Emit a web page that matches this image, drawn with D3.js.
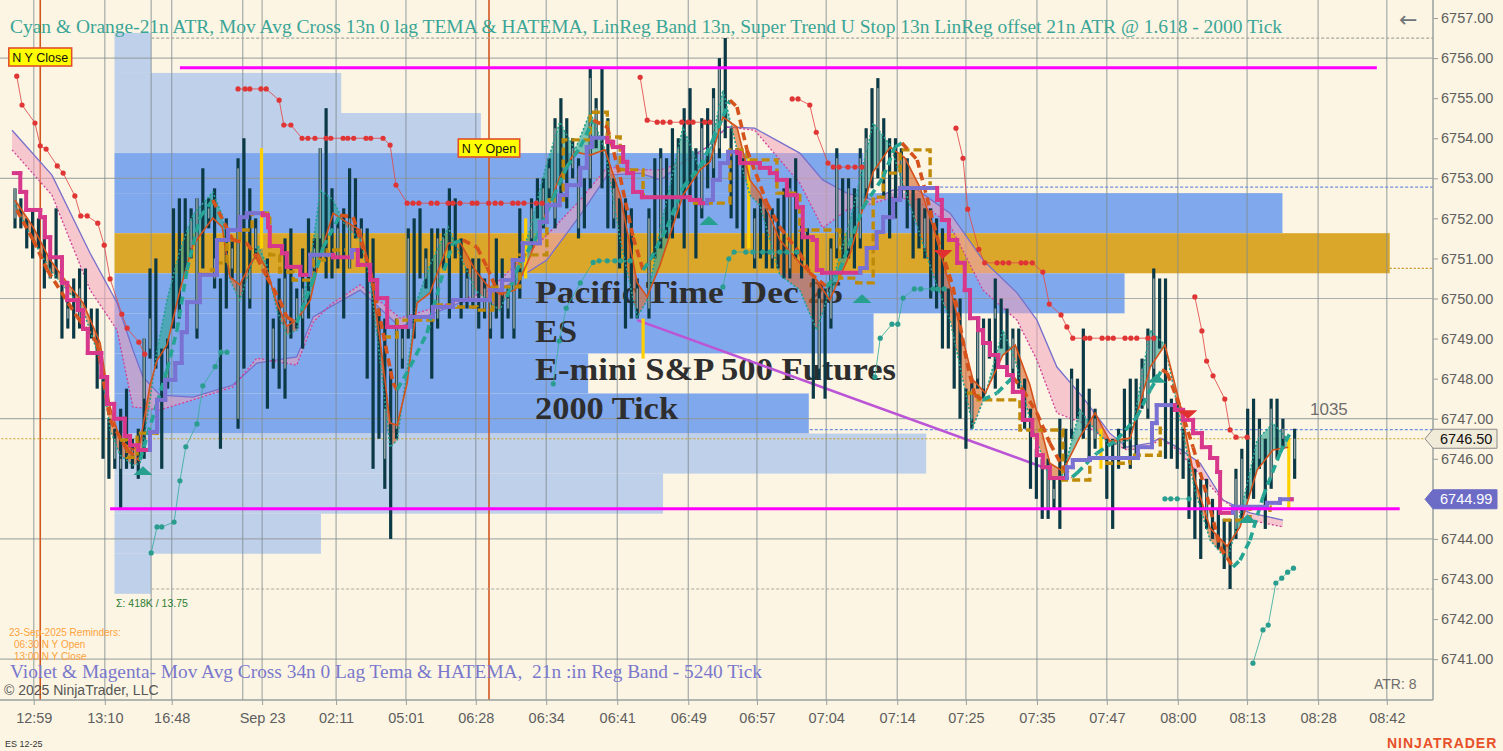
<!DOCTYPE html>
<html>
<head>
<meta charset="utf-8">
<script src="https://cdn.jsdelivr.net/npm/d3@7"></script>
<style>
  body { margin: 0; background: #fcf5e3; overflow: hidden; }
  svg { display: block; }
  .pre { white-space: pre; }
</style>
</head>
<body>
<div id="chart"></div>
<script>
// ES 12-25, 2000 tick bars with the usual overlay studies (NinjaTrader look)

// ---- price bars, index 0 = first bar on screen ----
const barHigh = [
  6752.75, 6752.5, 6752.0, 6752.25, 6752.0, 6752.0, 6751.0, 6752.25, 6750.5, 6750.0,
  6750.5, 6750.75, 6750.75, 6749.75, 6749.75, 6748.0, 6747.0, 6746.75, 6747.25, 6747.75,
  6746.5, 6746.75, 6749.0, 6750.75, 6751.0, 6748.75, 6749.0, 6752.25, 6752.5, 6752.5,
  6752.25, 6752.5, 6753.25, 6752.5, 6752.75, 6750.5, 6752.0, 6751.5, 6753.5, 6754.0,
  6752.75, 6752.0, 6753.75, 6751.0, 6749.5, 6750.5, 6751.5, 6751.75, 6750.25, 6751.25,
  6752.0, 6751.5, 6753.75, 6754.75, 6752.75, 6752.0, 6752.25, 6753.25, 6753.0, 6752.0,
  6751.75, 6751.5, 6749.75, 6749.5, 6748.25, 6749.5, 6749.25, 6751.75, 6752.0, 6752.25,
  6751.25, 6751.75, 6751.75, 6751.75, 6752.75, 6752.5, 6751.5, 6750.75, 6751.0, 6751.0,
  6750.5, 6750.25, 6751.5, 6751.0, 6750.25, 6751.0, 6752.25, 6752.0, 6752.5, 6753.0,
  6753.0, 6753.5, 6754.5, 6755.0, 6754.5, 6754.0, 6753.5, 6753.0, 6755.75, 6755.0,
  6755.75, 6754.5, 6753.0, 6752.5, 6752.5, 6752.25, 6750.5, 6749.5, 6752.25, 6753.5,
  6753.75, 6753.5, 6754.25, 6754.0, 6754.75, 6755.25, 6753.75, 6754.5, 6754.75, 6755.25,
  6756.0, 6756.5, 6754.25, 6753.75, 6753.5, 6753.5, 6752.25, 6752.5, 6752.25, 6752.25,
  6752.5, 6752.75, 6753.0, 6753.5, 6752.0, 6751.75, 6750.5, 6750.25, 6750.25, 6751.5,
  6753.75, 6753.0, 6753.0, 6752.75, 6753.75, 6754.25, 6755.25, 6755.5, 6754.5, 6754.0,
  6754.0, 6753.75, 6753.5, 6752.75, 6752.5, 6752.25, 6752.25, 6752.0, 6751.75, 6750.25,
  6750.0, 6750.0, 6747.75, 6748.0, 6749.5, 6749.5, 6749.5, 6750.5, 6750.0, 6749.75,
  6749.25, 6749.25, 6748.0, 6747.25, 6746.25, 6746.0, 6746.0, 6745.5, 6747.0, 6746.75,
  6748.25, 6748.0, 6749.25, 6747.75, 6747.25, 6746.75, 6746.5, 6746.5, 6746.75, 6747.75,
  6748.0, 6748.0, 6748.5, 6749.25, 6750.75, 6750.5, 6750.5, 6747.5, 6747.5, 6746.75,
  6746.0, 6745.75, 6745.5, 6745.5, 6745.0, 6744.75, 6744.5, 6744.5, 6745.75, 6746.25,
  6747.25, 6747.5, 6747.0, 6746.5, 6747.5, 6747.5, 6747.0, 6746.5, 6746.75
];
const barLow = [
  6751.75, 6751.75, 6751.25, 6751.0, 6751.25, 6750.25, 6750.5, 6750.5, 6749.0, 6749.25,
  6749.0, 6749.25, 6749.75, 6749.0, 6747.75, 6746.0, 6745.5, 6745.75, 6744.75, 6745.75,
  6745.75, 6745.5, 6746.0, 6748.5, 6748.25, 6745.75, 6747.75, 6749.25, 6749.5, 6750.5,
  6751.0, 6749.0, 6750.75, 6751.75, 6750.25, 6746.25, 6749.75, 6750.5, 6746.75, 6748.25,
  6749.75, 6751.0, 6751.25, 6747.25, 6748.25, 6747.75, 6747.5, 6749.0, 6749.25, 6748.75,
  6749.5, 6750.5, 6751.0, 6750.5, 6750.5, 6750.75, 6749.5, 6750.75, 6751.5, 6751.0,
  6748.0, 6745.75, 6746.5, 6745.25, 6744.0, 6746.5, 6748.25, 6749.0, 6749.0, 6750.5,
  6750.25, 6748.0, 6749.25, 6750.75, 6749.5, 6751.0, 6749.5, 6749.75, 6749.75, 6749.25,
  6749.5, 6749.0, 6749.5, 6749.0, 6749.5, 6749.0, 6750.0, 6750.5, 6751.25, 6752.0,
  6751.75, 6752.5, 6751.75, 6752.5, 6752.25, 6753.0, 6751.5, 6751.75, 6752.75, 6753.75,
  6752.75, 6751.75, 6751.75, 6750.75, 6749.25, 6749.5, 6749.5, 6748.5, 6749.5, 6751.0,
  6751.25, 6751.5, 6751.5, 6752.0, 6751.25, 6752.5, 6751.0, 6752.0, 6752.75, 6753.0,
  6753.5, 6754.0, 6752.0, 6751.75, 6751.25, 6751.25, 6750.75, 6751.0, 6750.75, 6750.75,
  6750.75, 6750.5, 6750.5, 6751.0, 6750.5, 6750.75, 6747.5, 6748.0, 6747.5, 6749.25,
  6751.0, 6751.0, 6751.0, 6750.75, 6751.25, 6752.5, 6752.75, 6753.0, 6752.5, 6751.5,
  6752.0, 6752.5, 6751.75, 6751.0, 6751.25, 6751.0, 6750.0, 6749.75, 6748.75, 6748.75,
  6747.75, 6747.0, 6746.25, 6746.75, 6747.75, 6747.5, 6748.5, 6747.75, 6748.75, 6748.25,
  6748.0, 6747.75, 6746.75, 6745.25, 6745.0, 6744.5, 6744.5, 6744.75, 6744.25, 6745.5,
  6746.5, 6747.0, 6746.5, 6746.0, 6746.25, 6745.75, 6745.0, 6744.25, 6745.75, 6746.25,
  6745.75, 6746.0, 6747.25, 6747.0, 6748.0, 6748.75, 6746.0, 6746.0, 6745.75, 6745.5,
  6744.5, 6744.0, 6743.5, 6744.25, 6744.0, 6743.75, 6743.25, 6742.75, 6744.0, 6744.5,
  6745.0, 6745.0, 6745.75, 6744.25, 6745.25, 6746.0, 6746.25, 6744.75, 6745.5
];
const barOpen = [
  6752.0, 6752.25, 6751.75, 6752.0, 6751.75, 6751.75, 6750.5, 6752.0, 6750.25, 6749.5,
  6750.25, 6749.5, 6750.5, 6749.5, 6749.5, 6747.75, 6746.75, 6746.0, 6745.75, 6747.5,
  6746.0, 6746.5, 6747.5, 6748.75, 6750.75, 6748.5, 6748.0, 6751.75, 6752.25, 6752.25,
  6751.25, 6749.25, 6753.0, 6752.0, 6750.5, 6750.25, 6751.75, 6750.75, 6747.0, 6753.75,
  6750.0, 6751.25, 6751.5, 6750.75, 6748.5, 6750.25, 6748.25, 6751.5, 6749.5, 6749.5,
  6751.75, 6750.75, 6751.5, 6754.5, 6752.5, 6751.0, 6752.0, 6750.75, 6752.75, 6751.25,
  6751.5, 6751.25, 6749.5, 6746.0, 6748.0, 6746.75, 6748.5, 6749.25, 6751.75, 6752.0,
  6750.5, 6751.5, 6749.5, 6751.0, 6752.5, 6752.25, 6751.25, 6750.0, 6750.0, 6750.75,
  6749.75, 6749.25, 6751.25, 6750.75, 6749.75, 6749.25, 6752.0, 6750.75, 6751.5, 6752.75,
  6752.0, 6752.75, 6752.0, 6754.75, 6754.25, 6753.25, 6751.75, 6752.75, 6753.0, 6754.0,
  6755.5, 6754.25, 6752.0, 6752.25, 6752.25, 6752.0, 6749.75, 6749.25, 6749.75, 6753.25,
  6751.5, 6753.25, 6754.0, 6752.25, 6754.5, 6755.0, 6753.5, 6752.25, 6754.5, 6753.25,
  6753.75, 6756.25, 6754.0, 6753.5, 6753.25, 6751.5, 6751.0, 6752.25, 6752.0, 6751.0,
  6752.25, 6752.5, 6750.75, 6753.25, 6751.75, 6751.5, 6750.25, 6748.25, 6750.0, 6749.5,
  6751.25, 6752.75, 6751.25, 6752.5, 6751.5, 6752.75, 6755.0, 6753.25, 6754.25, 6753.75,
  6753.75, 6752.75, 6753.25, 6752.5, 6752.25, 6751.25, 6752.0, 6751.75, 6751.5, 6750.0,
  6749.75, 6749.75, 6747.5, 6747.0, 6748.0, 6747.75, 6749.25, 6749.5, 6749.75, 6749.5,
  6748.25, 6749.0, 6747.75, 6747.0, 6746.0, 6745.75, 6744.75, 6745.0, 6746.75, 6746.5,
  6746.75, 6747.75, 6749.0, 6747.5, 6746.5, 6746.0, 6746.25, 6746.25, 6746.0, 6747.5,
  6747.75, 6747.75, 6747.5, 6747.25, 6748.25, 6750.25, 6750.25, 6747.25, 6747.25, 6746.5,
  6745.75, 6745.5, 6745.25, 6744.5, 6744.75, 6744.5, 6744.25, 6744.25, 6744.25, 6744.75,
  6747.0, 6747.25, 6746.0, 6746.25, 6745.5, 6747.25, 6746.5, 6746.25, 6746.0
];
const barClose = [
  6752.75, 6751.75, 6751.5, 6751.25, 6751.5, 6750.5, 6750.75, 6750.75, 6749.25, 6749.75,
  6749.25, 6750.25, 6750.0, 6749.25, 6748.0, 6746.25, 6745.75, 6746.5, 6746.0, 6746.0,
  6746.25, 6745.75, 6749.0, 6749.5, 6748.5, 6746.0, 6748.75, 6749.5, 6749.75, 6750.75,
  6752.0, 6752.5, 6751.0, 6752.25, 6751.0, 6746.5, 6750.0, 6751.25, 6753.25, 6748.5,
  6750.75, 6751.75, 6753.5, 6747.5, 6749.25, 6748.0, 6750.5, 6749.25, 6750.0, 6750.25,
  6749.75, 6751.25, 6753.75, 6750.75, 6750.75, 6751.75, 6749.75, 6752.0, 6751.75, 6751.75,
  6748.25, 6746.0, 6746.75, 6747.25, 6744.25, 6749.25, 6749.0, 6751.5, 6749.25, 6750.75,
  6751.0, 6748.25, 6751.5, 6751.5, 6749.75, 6751.25, 6749.75, 6750.5, 6750.75, 6749.5,
  6750.25, 6750.0, 6749.75, 6749.25, 6750.0, 6750.75, 6750.25, 6751.75, 6752.25, 6752.25,
  6752.75, 6753.25, 6754.25, 6752.75, 6752.5, 6753.75, 6753.25, 6752.0, 6755.5, 6754.75,
  6753.0, 6752.0, 6752.75, 6751.0, 6749.5, 6749.75, 6750.25, 6749.0, 6752.0, 6751.25,
  6753.5, 6751.75, 6751.75, 6753.75, 6751.5, 6752.75, 6751.25, 6754.25, 6753.0, 6755.0,
  6755.75, 6754.25, 6752.25, 6752.0, 6751.5, 6753.25, 6752.0, 6751.25, 6751.0, 6752.0,
  6751.0, 6750.75, 6752.75, 6751.25, 6750.75, 6751.0, 6747.75, 6750.0, 6747.75, 6751.25,
  6753.5, 6751.25, 6752.75, 6751.0, 6753.5, 6754.0, 6753.0, 6755.25, 6752.75, 6751.75,
  6752.25, 6753.5, 6752.0, 6751.25, 6751.5, 6752.0, 6750.25, 6750.0, 6749.0, 6749.0,
  6748.0, 6747.25, 6746.5, 6747.75, 6749.25, 6749.25, 6748.75, 6749.75, 6749.0, 6748.5,
  6749.0, 6748.0, 6747.0, 6745.5, 6745.25, 6744.75, 6745.75, 6745.25, 6744.5, 6745.75,
  6748.0, 6747.25, 6746.75, 6746.25, 6747.0, 6746.5, 6745.25, 6744.5, 6746.5, 6746.5,
  6746.0, 6746.25, 6748.25, 6749.0, 6750.5, 6749.0, 6746.25, 6746.25, 6746.0, 6745.75,
  6744.75, 6744.25, 6743.75, 6745.25, 6744.25, 6744.0, 6743.5, 6743.0, 6745.5, 6746.0,
  6745.25, 6745.25, 6746.75, 6744.5, 6747.25, 6746.25, 6746.75, 6745.0, 6746.5
];
// bars painted yellow by the chart
const goldBars = [42, 87, 107, 125, 185, 217];

// ---- axes ----
const priceTicks = [6757, 6756, 6755, 6754, 6753, 6752, 6751, 6750, 6749, 6748, 6747, 6746, 6745, 6744, 6743, 6742, 6741];
const gridPrices = [6756, 6753, 6750, 6747, 6744, 6741];
const timeLabels = ["12:59", "13:10", "16:48", "Sep 23", "02:11", "05:01", "06:28", "06:34", "06:41", "06:49",
                    "06:57", "07:04", "07:14", "07:25", "07:35", "07:47", "08:00", "08:13", "08:28", "08:42"];
const timeBars = [3.2, 15.3, 26.7, 42.1, 54.7, 66.6, 78.5, 90.5, 102.6, 114.7,
                  126.4, 138.2, 150.3, 162.0, 174.1, 186.0, 198.1, 209.9, 222.0, 233.7];
const sessionBreakBars = [23.2, 38.8];
const nyCloseBar = 4.3;
const nyOpenBar = 80.75;

// ---- volume profile (row mid price, volume K) ----
const profilePrice = [6756.13, 6755.13, 6754.13, 6753.13, 6752.13, 6751.13, 6750.13,
                      6749.13, 6748.13, 6747.13, 6746.13, 6745.13, 6744.13, 6743.13];
const profileVol = [1.8, 11.2, 18.1, 37.0, 57.7, 63.0, 49.9, 37.5, 23.4, 34.3, 40.1, 27.1, 10.2, 1.8];
const profileZone = ["out", "out", "out", "va", "va", "poc", "va", "va", "va", "va", "out", "out", "out", "out"];
const profileStartBar = 16.95;

// ---- LinReg band ----
const lrBars = [-0.5, 6.3, 12.8, 17.4, 20.1, 21.8, 24.7, 30.3, 37.1, 41.2, 48, 50.8, 53.7, 58.8, 65.6,
  75.7, 80.4, 90.6, 96.3, 100.9, 106.5, 110, 115, 117.9, 121.3, 126, 133.7, 137.6, 141.7, 146.2,
  149.6, 153.7, 159.3, 164.9, 170.7, 174.1, 177.5, 181.9, 186.5, 189.4, 193.4, 195.1, 198, 201.9,
  205.8, 210.4, 216];
const lrUpper = [6754.20, 6753.08, 6751.13, 6749.89, 6748.71, 6748.04, 6747.59, 6747.54, 6747.84, 6748.39,
  6748.54, 6749.54, 6749.79, 6750.21, 6749.29, 6749.89, 6750.01, 6750.96, 6752.08, 6753.08, 6753.13,
  6752.96, 6753.53, 6753.78, 6754.28, 6754.25, 6753.63, 6752.96, 6752.63, 6752.46, 6752.71, 6752.71,
  6752.13, 6750.96, 6750.14, 6749.46, 6748.29, 6747.54, 6746.64, 6746.29, 6746.39, 6746.52, 6746.29,
  6745.89, 6744.97, 6744.65, 6744.47];
const lrLower = [6753.71, 6752.58, 6750.21, 6749.21, 6747.29, 6747.27, 6747.22, 6747.47, 6747.79, 6748.51,
  6748.34, 6749.41, 6749.84, 6750.34, 6749.51, 6749.96, 6750.16, 6751.58, 6752.46, 6753.28, 6753.21,
  6753.21, 6753.46, 6753.78, 6754.28, 6754.20, 6752.88, 6751.76, 6752.21, 6752.38, 6752.53, 6752.46,
  6751.83, 6750.21, 6749.46, 6748.46, 6747.14, 6746.89, 6746.42, 6746.22, 6746.29, 6746.52, 6746.22,
  6745.60, 6744.97, 6744.47, 6744.30];

// ---- 13n zero lag TEMA (teal) vs TEMA (orange) ----
const fastBars = [0, 3.1, 6.0, 8.9, 11.6, 14.5, 16.2, 17.9, 20.1, 21.3, 23.0, 24.2, 25.9, 28.1, 30.3,
  33.7, 35.3, 36.6, 38.3, 40.0, 41.4, 42.9, 44.6, 46.3, 48.0, 50.3, 52.0, 54.2, 56.2, 58.8, 60.5,
  62.2, 63.9, 65.1, 66.8, 68.5, 70.7, 73.8, 75.8, 78.4, 80.4, 82.6, 85.2, 87.7, 90.3, 92.8, 95.4,
  98.0, 100.5, 103.1, 106.0, 107.7, 109.9, 113.8, 116.7, 118.4, 120.6, 123.0, 125.2, 126.9, 130.3,
  133.7, 136.6, 138.8, 142.3, 146.2, 149.1, 151.6, 154.2, 156.7, 159.3, 163.2, 165.3, 168.3, 170.4,
  172.9, 176.3, 178.5, 181.4, 184.0, 186.5, 190.0, 193.4, 195.9, 198.5, 201.0, 203.6, 206.5, 208.7,
  211.6, 214.3, 216.9];
const zlagLine = [6752.33, 6751.46, 6750.71, 6750.21, 6749.71, 6748.46, 6746.72, 6746.09, 6745.84, 6745.89,
  6747.47, 6748.71, 6749.96, 6751.21, 6752.08, 6752.66, 6752.08, 6750.46, 6749.96, 6750.71, 6751.33,
  6750.84, 6749.71, 6749.09, 6749.21, 6750.84, 6752.71, 6752.46, 6751.83, 6751.46, 6750.46, 6748.46,
  6746.29, 6746.47, 6748.22, 6749.96, 6750.84, 6751.78, 6751.09, 6750.21, 6749.96, 6749.71, 6750.59,
  6751.71, 6753.21, 6754.40, 6753.71, 6754.65, 6753.71, 6751.46, 6749.54, 6749.96, 6751.71, 6754.28,
  6753.21, 6753.71, 6755.20, 6753.71, 6752.58, 6752.33, 6750.59, 6750.21, 6749.21, 6750.21, 6751.96,
  6754.38, 6753.83, 6752.71, 6751.58, 6750.46, 6749.46, 6746.79, 6747.59, 6749.21, 6748.46, 6746.97,
  6745.47, 6745.60, 6747.22, 6746.72, 6746.34, 6746.47, 6749.21, 6748.84, 6746.97, 6745.22, 6743.97,
  6743.47, 6744.60, 6746.47, 6746.89, 6746.47];
const temaLine = [6752.46, 6751.78, 6750.96, 6750.39, 6749.89, 6748.89, 6747.29, 6746.47, 6746.22, 6746.39,
  6747.84, 6748.46, 6748.84, 6750.21, 6751.33, 6752.01, 6751.78, 6750.54, 6750.34, 6750.84, 6751.13,
  6750.71, 6749.89, 6749.31, 6749.46, 6749.96, 6751.09, 6752.13, 6751.93, 6751.71, 6750.71, 6748.96,
  6746.89, 6746.84, 6747.89, 6749.89, 6750.14, 6751.38, 6751.41, 6750.71, 6750.34, 6750.11, 6750.21,
  6751.03, 6752.08, 6753.03, 6753.66, 6753.58, 6753.71, 6752.58, 6750.39, 6750.04, 6750.84, 6752.58,
  6753.21, 6753.41, 6754.53, 6754.28, 6752.96, 6752.63, 6751.46, 6750.89, 6750.46, 6749.96, 6751.13,
  6753.16, 6753.78, 6753.51, 6752.76, 6751.66, 6750.29, 6747.97, 6747.64, 6748.59, 6748.84, 6747.84,
  6745.89, 6745.69, 6746.54, 6747.14, 6746.44, 6746.52, 6748.29, 6748.84, 6747.34, 6745.47, 6744.27,
  6743.82, 6744.30, 6745.72, 6746.22, 6746.29];

// ---- 13n HATEMA (dashed, teal rising / orange falling) ----
const hatemaBars = [0.3, 3.1, 5.5, 10.6, 14.0, 16.2, 19.1, 21.3, 24.2, 25.9, 27.6, 29.3, 31.5, 33.7, 37.1,
  39.5, 41.2, 42.9, 45.1, 46.3, 48.0, 50.8, 52.5, 55.4, 57.6, 60.5, 62.7, 64.4, 65.1, 67.3, 70.2, 72.4,
  74.6, 76.3, 78.7, 80.4, 82.1, 83.8, 86.0, 88.9, 91.7, 94.0, 96.3, 98.5, 100.9, 103.1, 105.3, 107.0,
  108.2, 111.1, 113.8, 116.7, 118.9, 121.8, 123.0, 124.7, 128.1, 130.3, 133.7, 135.4, 138.3, 140.5,
  144.5, 147.9, 149.9, 151.1, 153.7, 157.1, 159.8, 162.2, 163.5, 164.9, 167.3, 170.0, 171.7, 174.1,
  176.3, 178.5, 180.1, 180.9, 184.3, 187.7, 191.1, 193.4, 195.4, 196.3, 198.5, 200.7, 203.1, 205.3,
  207.5, 208.7, 210.4, 212.6, 215.5, 217.2];
const hatemaLine = [6752.21, 6751.46, 6750.71, 6749.54, 6748.89, 6746.97, 6746.22, 6745.97, 6747.39, 6748.22,
  6749.21, 6750.71, 6752.03, 6752.46, 6751.46, 6751.38, 6751.03, 6750.54, 6749.96, 6749.54, 6749.39,
  6750.46, 6751.28, 6752.08, 6752.03, 6750.71, 6749.14, 6747.89, 6747.72, 6748.29, 6749.14, 6750.39,
  6751.38, 6751.46, 6751.28, 6750.79, 6750.21, 6750.04, 6750.89, 6751.53, 6752.53, 6753.28, 6753.78,
  6754.45, 6754.28, 6753.03, 6751.53, 6750.71, 6750.96, 6751.78, 6752.78, 6753.28, 6753.96, 6754.95,
  6754.78, 6753.71, 6752.38, 6751.78, 6751.13, 6750.64, 6750.29, 6750.71, 6752.28, 6753.03, 6753.78,
  6753.88, 6753.46, 6751.53, 6750.29, 6748.39, 6747.59, 6747.47, 6747.64, 6748.04, 6747.72, 6747.14,
  6746.39, 6745.79, 6745.54, 6745.64, 6746.14, 6746.47, 6747.04, 6747.72, 6748.22, 6748.14, 6747.29,
  6746.29, 6745.05, 6743.80, 6743.30, 6743.47, 6743.97, 6745.05, 6746.14, 6746.64];

// ---- 21n stepped average (gold dashed), visible stretches: [bar, price] ----
const goldStep = [
  [[17.9, 6746.47], [19.1, 6746.04], [20.8, 6746.64], [24.2, 6746.52]],
  [[33.2, 6750.71], [34.4, 6750.89], [36.1, 6751.46], [38.3, 6751.71], [40.4, 6752.13], [43.4, 6751.09],
   [45.1, 6750.66], [47.4, 6750.46], [50.8, 6750.96], [53.2, 6751.21], [56.2, 6751.21]],
  [[62.7, 6749.04], [65.1, 6749.46], [71.2, 6749.84], [75.3, 6749.79], [78.7, 6749.71], [81.4, 6750.29],
   [86.0, 6751.09], [90.6, 6752.46], [93.4, 6753.96], [98.0, 6754.65], [100.9, 6754.03], [103.1, 6753.21],
   [107.0, 6752.53], [115.0, 6752.38], [117.9, 6752.38], [121.8, 6753.71], [124.7, 6753.46],
   [129.8, 6752.63], [133.7, 6751.71], [140.5, 6750.51], [143.4, 6750.39], [146.2, 6752.53],
   [147.9, 6753.13], [150.8, 6753.71], [155.9, 6752.83]],
  [[162.2, 6747.64], [164.1, 6747.47], [171.2, 6746.72], [178.5, 6745.47], [183.1, 6746.02],
   [186.0, 6745.89], [189.9, 6746.09], [195.1, 6746.89]],
  [[205.8, 6744.47], [210.4, 6744.80], [213.8, 6744.67]]
];

// ---- 34n HATEMA step (violet rising / magenta falling) ----
const stepBars = [-0.2, 0.9, 1.9, 4.3, 5.1, 6.0, 8.0, 8.9, 10.7, 11.6, 12.4, 14.7, 15.7, 16.9, 18.7, 19.6,
  21.0, 23.0, 24.2, 25.6, 27.3, 28.4, 29.3, 31.5, 34.4, 36.3, 38.3, 39.5, 42.2, 43.1, 43.4, 45.5, 46.3,
  48.6, 50.3, 54.2, 57.4, 58.4, 60.5, 61.7, 63.4, 67.3, 71.2, 74.6, 80.9, 83.0, 84.8, 86.5, 89.4, 90.6,
  92.8, 94.0, 96.3, 97.4, 98.3, 100.9, 101.9, 103.6, 104.3, 105.3, 106.8, 115.0, 116.7, 117.9, 118.9,
  120.1, 121.5, 123.0, 123.5, 126.9, 128.6, 129.8, 131.5, 133.2, 134.2, 135.9, 136.6, 137.5, 144.0,
  145.1, 146.8, 147.9, 149.6, 150.8, 157.1, 157.9, 159.1, 160.5, 161.8, 162.7, 164.1, 164.9, 166.1,
  167.5, 169.0, 170.0, 171.7, 173.3, 174.1, 175.1, 176.3, 179.2, 180.2, 183.1, 191.3, 193.7, 194.5,
  197.6, 199.0, 200.7, 202.2, 203.6, 204.8, 205.3, 207.5, 213.3, 215.5, 217.5];
const stepLine = [6753.13, 6752.66, 6752.21, 6752.03, 6751.53, 6751.03, 6750.39, 6749.96, 6749.71, 6749.24,
  6748.64, 6748.04, 6747.37, 6747.00, 6746.57, 6746.34, 6746.22, 6746.67, 6747.47, 6747.97, 6748.39,
  6749.16, 6749.91, 6750.59, 6751.46, 6751.71, 6752.03, 6752.13, 6752.08, 6751.78, 6751.31, 6751.13,
  6750.79, 6750.59, 6751.09, 6751.03, 6751.21, 6750.84, 6750.46, 6750.01, 6749.29, 6749.54, 6749.79,
  6749.96, 6750.21, 6750.46, 6750.96, 6751.38, 6751.91, 6752.33, 6752.58, 6752.83, 6753.26, 6753.78,
  6754.01, 6753.91, 6753.78, 6753.41, 6753.13, 6752.66, 6752.53, 6752.46, 6752.38, 6752.46, 6752.96,
  6753.38, 6753.66, 6753.63, 6753.38, 6753.26, 6753.13, 6752.96, 6752.58, 6752.28, 6751.53, 6751.46,
  6750.71, 6750.64, 6750.76, 6751.26, 6751.66, 6752.03, 6752.46, 6752.76, 6752.46, 6751.96, 6751.46,
  6750.89, 6750.21, 6749.51, 6749.21, 6748.89, 6748.59, 6748.29, 6748.09, 6747.67, 6746.97, 6746.59,
  6746.09, 6745.79, 6745.52, 6745.79, 6745.97, 6746.02, 6746.29, 6746.89, 6747.34, 6747.22, 6746.97,
  6746.64, 6746.29, 6746.02, 6745.67, 6744.65, 6744.80, 6744.90, 6744.99, 6744.99];

// ---- Super Trend stop (red) segments: [bar, price] ----
const stopRed = [
  [[0.3, 6755.55], [1.2, 6754.83], [3.4, 6754.38], [4.3, 6753.81], [5.3, 6753.73], [7.2, 6753.31], [8.2, 6753.13],
   [10.2, 6752.56], [11.2, 6752.06], [12.3, 6752.06], [14.1, 6751.88], [15.2, 6751.33], [16.2, 6750.49],
   [18.2, 6749.61], [19.1, 6749.26], [21.1, 6748.91], [22.1, 6748.61]],
  [[38.0, 6755.23], [39.2, 6755.23], [40.0, 6755.23], [41.9, 6755.23], [42.8, 6755.23], [45.0, 6754.95],
   [45.8, 6754.33], [47.0, 6754.33], [48.9, 6754.0], [49.9, 6754.0], [51.1, 6754.0], [53.0, 6754.0],
   [53.8, 6754.0], [55.9, 6754.0], [56.7, 6754.0], [57.7, 6754.0], [59.8, 6754.0], [60.6, 6754.0],
   [62.7, 6754.0], [63.9, 6753.83], [64.9, 6752.83], [66.8, 6752.38], [67.8, 6752.38], [68.8, 6752.38],
   [70.9, 6752.38], [71.9, 6752.38], [73.8, 6752.38], [74.6, 6752.38], [75.8, 6752.38], [77.9, 6752.38],
   [78.7, 6752.38], [80.7, 6752.38], [81.8, 6752.38], [82.8, 6752.38], [84.8, 6752.38], [85.7, 6752.38],
   [86.7, 6752.38], [88.8, 6752.38], [89.8, 6752.38]],
  [[106.5, 6755.52], [107.7, 6754.45], [109.4, 6754.40], [110.4, 6754.40], [111.6, 6754.40], [113.6, 6754.40],
   [114.7, 6754.40], [115.5, 6754.40], [117.5, 6754.40], [118.4, 6754.40]],
  [[132.4, 6754.98], [133.4, 6754.98], [135.4, 6754.83], [136.5, 6754.15], [138.5, 6753.38], [139.4, 6753.28],
   [140.4, 6753.28], [141.9, 6753.28], [143.1, 6753.28], [144.3, 6753.28]],
  [[160.3, 6754.25], [161.5, 6753.50], [162.3, 6752.23], [164.2, 6751.23], [165.2, 6750.89], [167.3, 6750.89],
   [168.3, 6750.89], [169.3, 6750.89], [171.4, 6750.89], [172.2, 6750.89], [173.3, 6750.89], [175.1, 6750.66],
   [176.2, 6749.86], [178.2, 6749.59], [179.2, 6749.29], [180.2, 6749.01], [182.3, 6749.01], [183.1, 6749.01],
   [185.2, 6749.01], [186.2, 6749.01], [187.1, 6749.01], [189.1, 6749.01], [190.1, 6749.01], [191.1, 6749.01],
   [193.0, 6749.01], [194.0, 6749.01]],
  [[201.0, 6750.04], [202.2, 6749.19], [203.0, 6748.44], [204.1, 6748.07], [206.1, 6747.49], [207.0, 6746.72],
   [208.0, 6746.54], [209.9, 6746.54]]
];
// ---- Super Trend stop (teal) segments ----
const stopTeal = [
  [[23.2, 6743.65], [24.2, 6744.30], [25.0, 6744.30], [27.1, 6744.42], [28.1, 6745.45], [29.1, 6746.30],
   [31.0, 6746.87], [32.0, 6747.82], [34.1, 6748.30], [35.1, 6748.66], [36.1, 6748.66]],
  [[91.7, 6747.87], [92.7, 6748.94], [93.9, 6749.76], [96.3, 6750.39], [98.5, 6750.90], [99.5, 6750.94],
   [100.9, 6750.94], [102.2, 6750.94], [103.2, 6750.94], [104.8, 6750.94]],
  [[120.6, 6750.29], [121.6, 6750.99], [122.5, 6751.16], [124.5, 6751.16], [125.7, 6751.16], [127.4, 6751.16],
   [128.6, 6751.16], [130.3, 6751.16], [131.5, 6751.16], [133.2, 6751.16]],
  [[146.5, 6748.04], [147.4, 6749.01], [149.4, 6749.36], [150.4, 6749.36], [151.3, 6750.01], [153.2, 6750.24],
   [154.3, 6750.24], [156.4, 6750.24], [157.2, 6750.24], [158.3, 6750.24]],
  [[195.9, 6745.0], [196.9, 6745.0], [198.0, 6745.0], [200.0, 6745.0]],
  [[210.9, 6740.90], [212.6, 6741.73], [213.5, 6741.85], [214.8, 6742.90], [215.8, 6743.02], [216.8, 6743.17],
   [217.8, 6743.27]]
];

// ---- cross signals ----
const crossUp = [[21.8, 6745.67], [118.2, 6751.91], [144.3, 6749.96], [194.5, 6747.97], [210.0, 6744.47]];
const crossDown = [[158.1, 6751.14], [199.8, 6747.14]];

// ---- drawn objects ----
const trendLine = [[106.0, 6749.46], [175.5, 6745.77]];
const rayLines = [[6755.76, 28.1, 232.0], [6744.75, 16.2, 235.9]];     // price, from bar, to bar
const levelLines = [
  { price: 6756.5, from: 23.2, kind: "range" },
  { price: 6742.75, from: 23.2, kind: "range" },
  { price: 6752.78, from: 154.2, kind: "va" },
  { price: 6746.73, from: 135.4, kind: "va" },
  { price: 6750.75, from: 234.2, kind: "poc" },
  { price: 6746.5, from: -3, kind: "last" }
];
const lastPrice = 6746.50;
const stepLast = 6744.99;

// ================= drawing =================
const width = 1503, height = 751;
const plotW = 1433, plotH = 700;

const svg = d3.select("#chart").append("svg")
  .attr("width", width).attr("height", height)
  .attr("viewBox", [0, 0, width, height]);

svg.append("rect").attr("width", width).attr("height", height).attr("fill", "#fcf5e3");

const x = d3.scaleLinear().domain([-2.555, 241.57]).range([0, plotW]);
const y = d3.scaleLinear().domain([6739.98, 6757.45]).range([plotH, 0]);

svg.append("clipPath").attr("id", "plot")
  .append("rect").attr("width", plotW).attr("height", plotH);
const g = svg.append("g").attr("clip-path", "url(#plot)");

// volume profile
const volBars = d3.scaleLinear().domain([0, 63]).range([0, 217.25]);
const zoneFill = { out: "#bfd0ea", va: "#80a8ec", poc: "#daa72a" };
g.selectAll("rect.vp").data(profilePrice).enter().append("rect")
  .attr("x", x(profileStartBar))
  .attr("y", p => y(p + 0.5))
  .attr("width", (p, k) => x(profileStartBar + volBars(profileVol[k])) - x(profileStartBar))
  .attr("height", p => y(p - 0.5) - y(p + 0.5))
  .attr("fill", (p, k) => zoneFill[profileZone[k]]);

// grid
g.selectAll("line.hg").data(gridPrices).enter().append("line")
  .attr("x1", 0).attr("x2", plotW).attr("y1", d => y(d)).attr("y2", d => y(d))
  .attr("stroke", "#8f9696").attr("stroke-opacity", 0.75).attr("stroke-width", 1.2);
g.selectAll("line.vg").data(timeBars.concat(sessionBreakBars)).enter().append("line")
  .attr("x1", d => x(d)).attr("x2", d => x(d)).attr("y1", 0).attr("y2", plotH)
  .attr("stroke", "#7f8c90").attr("stroke-opacity", 0.7).attr("stroke-width", 1.2);

// session markers
[nyCloseBar, nyOpenBar].forEach(b => {
  g.append("line").attr("x1", x(b)).attr("x2", x(b)).attr("y1", 0).attr("y2", plotH)
    .attr("stroke", "#d0581e").attr("stroke-width", 1.6);
});

// level lines
const levelStyle = {
  range: { c: "#a8a8a0", d: "3,2" }, va: { c: "#6f8fe0", d: "3,2" },
  poc: { c: "#c8961e", d: "2,2" }, last: { c: "#c8a020", d: "2,2" }
};
levelLines.forEach(l => {
  g.append("line").attr("x1", x(l.from)).attr("x2", plotW).attr("y1", y(l.price)).attr("y2", y(l.price))
    .attr("stroke", levelStyle[l.kind].c).attr("stroke-width", 1.2)
    .attr("stroke-dasharray", levelStyle[l.kind].d);
});

// instrument text block
const info = ["Pacific Time  Dec 25", "ES", "E-mini S&P 500 Futures", "2000 Tick"];
const infoWidth = [308, 42, 361, 143];
g.selectAll("text.info").data(info).enter().append("text")
  .attr("class", "pre")
  .attr("x", 535).attr("y", (d, k) => 303 + k * 38.7)
  .attr("font-family", "'Liberation Serif', 'DejaVu Serif', serif").attr("font-weight", "bold")
  .attr("font-size", 32).attr("fill", "#2e2e2e")
  .attr("textLength", (d, k) => infoWidth[k]).attr("lengthAdjust", "spacingAndGlyphs")
  .text(d => d);

// LinReg band
const band = d3.area()
  .x((d, k) => x(lrBars[k]))
  .y0((d, k) => y(lrLower[k]))
  .y1((d, k) => y(lrUpper[k]));
g.append("path").attr("d", band(lrBars)).attr("fill", "#f0a2bc").attr("fill-opacity", 0.55);
g.append("path").attr("d", d3.line().x((d, k) => x(lrBars[k])).y((d, k) => y(lrUpper[k]))(lrBars))
  .attr("fill", "none").attr("stroke", "#7670cc").attr("stroke-width", 1.3);
g.append("path").attr("d", d3.line().x((d, k) => x(lrBars[k])).y((d, k) => y(lrLower[k]))(lrBars))
  .attr("fill", "none").attr("stroke", "#d0409a").attr("stroke-width", 1.3).attr("stroke-dasharray", "2,2");

// teal / orange cross fill
const fillG = g.append("g");
for (let k = 0; k < fastBars.length - 1; k++) {
  const i0 = fastBars[k], i1 = fastBars[k + 1];
  const a0 = zlagLine[k], a1 = zlagLine[k + 1], b0 = temaLine[k], b1 = temaLine[k + 1];
  const d0 = a0 - b0, d1 = a1 - b1;
  const polys = [];
  if (d0 * d1 >= 0) {
    polys.push({ pts: [[i0, a0], [i1, a1], [i1, b1], [i0, b0]], up: d0 + d1 >= 0 });
  } else {
    const t = d0 / (d0 - d1);
    const ic = i0 + t * (i1 - i0), pc = a0 + t * (a1 - a0);
    polys.push({ pts: [[i0, a0], [ic, pc], [i0, b0]], up: d0 > 0 });
    polys.push({ pts: [[ic, pc], [i1, a1], [i1, b1]], up: d1 > 0 });
  }
  polys.forEach(pg => {
    fillG.append("polygon")
      .attr("points", pg.pts.map(p => [x(p[0]), y(p[1])].join(",")).join(" "))
      .attr("fill", pg.up ? "#2ea596" : "#d8692e").attr("fill-opacity", 0.62);
  });
}

// drawn trend line
g.append("line")
  .attr("x1", x(trendLine[0][0])).attr("y1", y(trendLine[0][1]))
  .attr("x2", x(trendLine[1][0])).attr("y2", y(trendLine[1][1]))
  .attr("stroke", "#bb55d6").attr("stroke-width", 2.6);

// candles
const bars = d3.range(barHigh.length);
const candle = g.append("g");
candle.selectAll("rect.c").data(bars).enter().append("rect")
  .attr("x", i => x(i) - 1.6).attr("width", 3.2)
  .attr("y", i => y(barHigh[i]))
  .attr("height", i => Math.max(1, y(barLow[i]) - y(barHigh[i])))
  .attr("fill", i => goldBars.includes(i) ? "#ffd000" : "#0b3946");
candle.selectAll("rect.b").data(bars.filter(i => barClose[i] > barOpen[i] && !goldBars.includes(i)))
  .enter().append("rect")
  .attr("x", i => x(i) - 0.8).attr("width", 1.6)
  .attr("y", i => y(barClose[i]))
  .attr("height", i => y(barOpen[i]) - y(barClose[i]))
  .attr("fill", "#8fa0a2");

// TEMA lines
const fastLine = arr => d3.line().x((d, k) => x(fastBars[k])).y((d, k) => y(arr[k]))(fastBars);
g.append("path").attr("d", fastLine(zlagLine)).attr("fill", "none")
  .attr("stroke", "#23a08f").attr("stroke-width", 1.6).attr("stroke-dasharray", "2,2");
g.append("path").attr("d", fastLine(temaLine)).attr("fill", "none")
  .attr("stroke", "#d4521c").attr("stroke-width", 1.6);

// gold stepped average
const goldPath = d3.line().curve(d3.curveStepAfter).x(d => x(d[0])).y(d => y(d[1]));
goldStep.forEach(seg => {
  g.append("path").attr("d", goldPath(seg))
    .attr("fill", "none").attr("stroke", "#bf8a08").attr("stroke-width", 3.4)
    .attr("stroke-dasharray", "8,4");
});

// HATEMA dashed, coloured by slope
for (let k = 0; k < hatemaBars.length - 1; k++) {
  const rising = hatemaLine[k + 1] >= hatemaLine[k];
  g.append("line")
    .attr("x1", x(hatemaBars[k])).attr("y1", y(hatemaLine[k]))
    .attr("x2", x(hatemaBars[k + 1])).attr("y2", y(hatemaLine[k + 1]))
    .attr("stroke", rising ? "#26a594" : "#d4521c").attr("stroke-width", 3.6)
    .attr("stroke-dasharray", "8,5");
}

// 34n step line, violet when stepping up, magenta when stepping down
const stepColor = k => (k > 0 && stepLine[k] > stepLine[k - 1]) ? "#7a72d2" : "#d8388c";
for (let k = 0; k < stepBars.length - 1; k++) {
  const x0 = x(stepBars[k]), x1 = x(stepBars[k + 1]);
  const y0 = y(stepLine[k]), y1 = y(stepLine[k + 1]);
  g.append("path").attr("d", `M${x0},${y0}H${x1}`).attr("fill", "none")
    .attr("stroke", stepColor(k)).attr("stroke-width", 4).attr("stroke-linecap", "square");
  g.append("path").attr("d", `M${x1},${y0}V${y1}`).attr("fill", "none")
    .attr("stroke", stepColor(k + 1)).attr("stroke-width", 4).attr("stroke-linecap", "square");
}

// super trend stops
function drawStops(segments, color, dot) {
  segments.forEach(seg => {
    g.append("path").attr("d", d3.line().x(d => x(d[0])).y(d => y(d[1]))(seg))
      .attr("fill", "none").attr("stroke", color).attr("stroke-width", 1).attr("stroke-opacity", 0.85);
    g.selectAll(null).data(seg).enter().append("circle")
      .attr("cx", d => x(d[0])).attr("cy", d => y(d[1])).attr("r", 2.6).attr("fill", dot);
  });
}
drawStops(stopRed, "#e04a4a", "#e03535");
drawStops(stopTeal, "#3aab9c", "#2a9d8f");

// cross arrows
const tri = d3.symbol().type(d3.symbolTriangle).size(70);
g.selectAll("path.up").data(crossUp).enter().append("path")
  .attr("d", tri).attr("transform", d => `translate(${x(d[0])},${y(d[1])}) scale(1.5,0.8)`)
  .attr("fill", "#27a08f");
g.selectAll("path.dn").data(crossDown).enter().append("path")
  .attr("d", tri).attr("transform", d => `translate(${x(d[0])},${y(d[1])}) scale(1.5,-0.8)`)
  .attr("fill", "#e03030");

// horizontal rays
rayLines.forEach(r => {
  g.append("line").attr("x1", x(r[1])).attr("x2", x(r[2])).attr("y1", y(r[0])).attr("y2", y(r[0]))
    .attr("stroke", "#ff00ff").attr("stroke-width", 3);
});

// session labels
function flag(bar, yTop, label) {
  const cx = x(bar);
  const t = g.append("text").attr("x", cx).attr("y", yTop + 13.5).attr("text-anchor", "middle")
    .attr("font-family", "'Liberation Sans', Arial, sans-serif").attr("font-size", 12.5)
    .attr("fill", "#111").text(label);
  const w = t.node().getComputedTextLength() + 7;
  g.insert("rect", () => t.node()).attr("x", cx - w / 2).attr("y", yTop).attr("width", w).attr("height", 18)
    .attr("fill", "#ffff00").attr("stroke", "#e2502a").attr("stroke-width", 1.6);
}
flag(nyCloseBar, 48, "N Y Close");
flag(nyOpenBar, 139, "N Y Open");

// ---- axes ----
const axisColor = "#9aa0a0";
svg.append("line").attr("x1", plotW).attr("x2", plotW).attr("y1", 0).attr("y2", plotH)
  .attr("stroke", axisColor).attr("stroke-width", 1.5);
svg.append("line").attr("x1", 0).attr("x2", plotW).attr("y1", plotH).attr("y2", plotH)
  .attr("stroke", axisColor).attr("stroke-width", 1.5);

const yAxis = d3.axisRight(y).tickValues(priceTicks).tickSize(5).tickFormat(d3.format(".2f"));
const ya = svg.append("g").attr("transform", `translate(${plotW},0)`).call(yAxis);
ya.select(".domain").remove();
ya.selectAll("line").attr("stroke", axisColor);
ya.selectAll("text").attr("font-family", "'Liberation Sans', Arial, sans-serif")
  .attr("font-size", 14.5).attr("fill", "#5e5e5e").attr("x", 8);

const xAxis = d3.axisBottom(x).tickValues(timeBars).tickSize(5).tickFormat((d, k) => timeLabels[k]);
const xa = svg.append("g").attr("transform", `translate(0,${plotH})`).call(xAxis);
xa.select(".domain").remove();
xa.selectAll("line").attr("stroke", axisColor);
xa.selectAll("text").attr("font-family", "'Liberation Sans', Arial, sans-serif")
  .attr("font-size", 14.5).attr("fill", "#5e5e5e").attr("dy", "1.05em");

// price markers on the axis
function marker(price, fill, stroke, color) {
  const cy = y(price);
  svg.append("path")
    .attr("d", `M1425,${cy}L1433,${cy - 9.5}H1497V${cy + 9.5}H1433Z`)
    .attr("fill", fill).attr("stroke", stroke).attr("stroke-width", 1);
  svg.append("text").attr("x", 1440).attr("y", cy + 5)
    .attr("font-family", "'Liberation Sans', Arial, sans-serif").attr("font-size", 14.5)
    .attr("fill", color).text(d3.format(".2f")(price));
}
marker(lastPrice, "#f0ead8", "#8a8a8a", "#111");
marker(stepLast, "#6c6cc6", "#6c6cc6", "#ffffff");

// ---- captions ----
const serif = "'Liberation Serif', 'DejaVu Serif', serif";
const sans = "'Liberation Sans', Arial, sans-serif";
svg.append("text").attr("x", 10).attr("y", 33).attr("font-family", serif).attr("font-size", 18)
  .attr("fill", "#3aa596").attr("textLength", 1272).attr("lengthAdjust", "spacingAndGlyphs")
  .text("Cyan & Orange-21n ATR, Mov Avg Cross 13n 0 lag TEMA & HATEMA, LinReg Band 13n, Super Trend U Stop 13n LinReg offset 21n ATR @ 1.618 - 2000 Tick");
svg.append("text").attr("class", "pre").attr("x", 10).attr("y", 678).attr("font-family", serif).attr("font-size", 18)
  .attr("fill", "#7a78cc").attr("textLength", 752).attr("lengthAdjust", "spacingAndGlyphs")
  .text("Violet & Magenta- Mov Avg Cross 34n 0 Lag Tema & HATEMA,  21n :in Reg Band - 5240 Tick");
svg.append("text").attr("x", 4).attr("y", 695).attr("font-family", sans).attr("font-size", 14)
  .attr("fill", "#555").text("© 2025 NinjaTrader, LLC");

const reminders = ["23-Sep-2025 Reminders:", "06:30 N Y Open", "13:00 N Y Close"];
svg.selectAll("text.rem").data(reminders).enter().append("text")
  .attr("x", (d, k) => k === 0 ? 9 : 14).attr("y", (d, k) => 636 + k * 12)
  .attr("font-family", sans).attr("font-size", 10).attr("fill", "#ffa23c").text(d => d);

svg.append("text").attr("x", 116).attr("y", 607).attr("font-family", sans).attr("font-size", 10.5)
  .attr("fill", "#2e7d32").text("Σ: 418K / 13.75");
svg.append("text").attr("x", 1310).attr("y", 415).attr("font-family", sans).attr("font-size", 17)
  .attr("fill", "#6e6e6e").text("1035");
svg.append("text").attr("x", 1374).attr("y", 689).attr("font-family", sans).attr("font-size", 14)
  .attr("fill", "#6e6e6e").text("ATR: 8");
svg.append("text").attr("x", 1399).attr("y", 27).attr("font-family", "'DejaVu Sans', sans-serif")
  .attr("font-size", 22).attr("fill", "#6e7478").text("←");
svg.append("text").attr("x", 5).attr("y", 747).attr("font-family", sans).attr("font-size", 9)
  .attr("fill", "#333").text("ES 12-25");
svg.append("text").attr("x", 1387).attr("y", 748).attr("font-family", sans).attr("font-size", 14)
  .attr("font-weight", "bold").attr("letter-spacing", 1).attr("fill", "#e8502a").text("NINJATRADER");
</script>
</body>
</html>
